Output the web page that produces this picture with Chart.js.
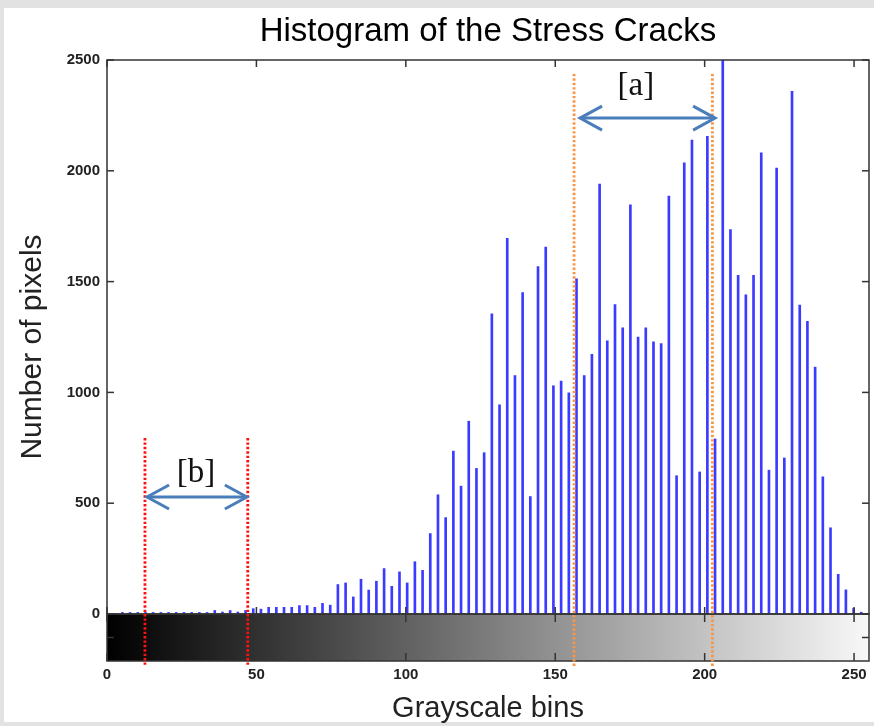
<!DOCTYPE html>
<html><head><meta charset="utf-8">
<script src="https://cdn.jsdelivr.net/npm/chart.js@4.4.1/dist/chart.umd.min.js"></script>
<style>html,body{margin:0;padding:0;background:#fff;}canvas{display:block;}</style>
</head><body>
<canvas id="c" width="874" height="726"></canvas>
<script>
// ---- data ----
const binCenters = [0,2.58,5.15,7.73,10.30,12.88,15.45,18.03,20.61,23.18,
  25.76,28.33,30.91,33.48,36.06,38.64,41.21,43.79,46.36,48.94,
  51.52,54.09,56.67,59.24,61.82,64.39,66.97,69.55,72.12,74.70,
  77.27,79.85,82.42,85.00,87.58,90.15,92.73,95.30,97.88,100.45,
  103.03,105.61,108.18,110.76,113.33,115.91,118.48,121.06,123.64,126.21,
  128.79,131.36,133.94,136.52,139.09,141.67,144.24,146.82,149.39,151.97,
  154.55,157.12,159.70,162.27,164.85,167.42,170.00,172.58,175.15,177.73,
  180.30,182.88,185.45,188.03,190.61,193.18,195.76,198.33,200.91,203.48,
  206.06,208.64,211.21,213.79,216.36,218.94,221.52,224.09,226.67,229.24,
  231.82,234.39,236.97,239.55,242.12,244.70,247.27,249.85,252.42,255.00];
const pixelCounts = [0,0,7,7,7,7,7,7,7,7,
  7,7,7,7,16,9,16,9,16,24,
  22,30,30,30,30,38,38,30,48,40,
  133,140,77,157,108,148,205,125,190,140,
  236,197,363,538,435,735,577,870,657,728,
  1354,944,1695,1076,1450,530,1568,1656,1030,1051,
  998,1513,1076,1172,1940,1233,1396,1291,1846,1250,
  1291,1228,1220,1886,624,2036,2139,641,2156,790,
  2650,1735,1528,1440,1528,2081,649,2012,704,2359,
  1394,1321,1114,619,389,179,109,25,8,0];
const xTickValues = [0,50,100,150,200,250];
const yTickValues = [0,500,1000,1500,2000,2500];
const titleText = 'Histogram of the Stress Cracks';
const xTitle = 'Grayscale bins';
const yTitle = 'Number of pixels';
// annotations (in data units)
const regionB = {lines:[12.7,47.1], top:794, arrow:[13.4,46.8], arrowY:528, label:'[b]', labelX:29.8, labelY:636};
const regionA = {lines:[156.3,202.6], top:2437, arrow:[158.3,203.5], arrowY:2238, label:'[a]', labelX:177.0, labelY:2383};

const CB_H = 47;
const FONT = '"Liberation Sans", Arial, Helvetica, sans-serif';

function line(ctx,x1,y1,x2,y2){ctx.beginPath();ctx.moveTo(x1,y1);ctx.lineTo(x2,y2);ctx.stroke();}

const framePlugin = {
  id:'frame',
  beforeDraw(chart){
    const ctx = chart.ctx;
    ctx.save();
    ctx.fillStyle='#ffffff'; ctx.fillRect(0,0,chart.width,chart.height);
    ctx.fillStyle='#e2e2e2';
    ctx.fillRect(0,0,chart.width,8);
    ctx.fillRect(0,0,4,chart.height);
    ctx.fillRect(0,chart.height-4,chart.width,4);
    ctx.restore();
  }
};

const decorPlugin = {
  id:'decor',
  afterDatasetsDraw(chart){
    const {ctx, chartArea:{left,right,top,bottom}, scales:{x,y}} = chart;
    ctx.save();
    // colour bar
    const x0 = x.getPixelForValue(0), x1 = x.getPixelForValue(255);
    const g = ctx.createLinearGradient(x0,0,x1,0);
    g.addColorStop(0,'#000000'); g.addColorStop(1,'#f8f8f8');
    ctx.fillStyle = g; ctx.fillRect(x0,bottom,x1-x0,CB_H);
    // boxes
    ctx.strokeStyle='#333333'; ctx.lineWidth=1.5;
    ctx.strokeRect(left,top,right-left,bottom-top);
    ctx.strokeRect(left,bottom,right-left,CB_H);
    // ticks (inward)
    xTickValues.forEach(v=>{
      const px = x.getPixelForValue(v);
      line(ctx,px,bottom,px,bottom-7);
      line(ctx,px,top,px,top+7);
      line(ctx,px,bottom,px,bottom+8);
      line(ctx,px,bottom+CB_H,px,bottom+CB_H-8);
    });
    yTickValues.forEach(v=>{
      const py = y.getPixelForValue(v);
      line(ctx,left,py,left+7,py);
      line(ctx,right,py,right-7,py);
    });
    line(ctx,right,bottom+CB_H/2,right-7,bottom+CB_H/2);
    line(ctx,left,bottom+CB_H/2,left+7,bottom+CB_H/2);

    // dotted lines
    function dotted(v,topVal,color){
      const px = x.getPixelForValue(v), py = y.getPixelForValue(topVal);
      ctx.save(); ctx.strokeStyle=color; ctx.lineWidth=2.8; ctx.setLineDash([2.4,2]);
      line(ctx,px,py,px,bottom+52); ctx.restore();
    }
    regionB.lines.forEach(v=>dotted(v,regionB.top,'#ff1010'));
    regionA.lines.forEach(v=>dotted(v,regionA.top,'#f79646'));

    // double arrows + labels
    function arrow(r){
      const xa = x.getPixelForValue(r.arrow[0]), xb = x.getPixelForValue(r.arrow[1]);
      const py = y.getPixelForValue(r.arrowY);
      ctx.save(); ctx.strokeStyle='#4a7ebb'; ctx.lineWidth=3;
      line(ctx,xa,py,xb,py);
      ctx.beginPath(); ctx.moveTo(xa+22,py-12); ctx.lineTo(xa,py); ctx.lineTo(xa+22,py+12); ctx.stroke();
      ctx.beginPath(); ctx.moveTo(xb-22,py-12); ctx.lineTo(xb,py); ctx.lineTo(xb-22,py+12); ctx.stroke();
      ctx.restore();
      ctx.save(); ctx.fillStyle='#111'; ctx.font='33px "Liberation Serif", serif';
      ctx.textAlign='center'; ctx.textBaseline='middle';
      ctx.fillText(r.label, x.getPixelForValue(r.labelX), y.getPixelForValue(r.labelY));
      ctx.restore();
    }
    arrow(regionB); arrow(regionA);

    // y-axis title (centred on plot + colour bar, as in the reference)
    ctx.save();
    ctx.fillStyle='#222'; ctx.font='30px '+FONT;
    ctx.textAlign='center'; ctx.textBaseline='middle';
    ctx.translate(33, (top+bottom)/2 + 10);
    ctx.rotate(-Math.PI/2);
    ctx.fillText(yTitle, 0, 0);
    ctx.restore();
    ctx.restore();
  }
};

new Chart(document.getElementById('c'), {
  type:'bar',
  data:{datasets:[{
    label:'Counts',
    data: binCenters.map((c,i)=>({x:c, y:pixelCounts[i]})),
    backgroundColor:'#3b3bff',
    borderWidth:0,
    barThickness:2,
    grouped:false
  }]},
  options:{
    responsive:false, animation:false, devicePixelRatio:1,
    layout:{padding:{left:0,right:5,top:0,bottom:0}},
    plugins:{
      legend:{display:false}, tooltip:{enabled:false},
      title:{display:true, text:titleText, fullSize:false, color:'#000',
        font:{family:FONT, size:33, weight:'normal'},
        padding:{top:12,bottom:8.4}}
    },
    scales:{
      x:{type:'linear', min:0, max:255, offset:false,
        afterBuildTicks:s=>{s.ticks = xTickValues.map(v=>({value:v}));},
        afterFit:s=>{s.height=112; s.paddingLeft=0; s.paddingRight=0;},
        grid:{display:false, drawTicks:false}, border:{display:false},
        ticks:{padding:52, maxRotation:0, autoSkip:false, color:'#222',
          callback:v=>String(v),
          font:{family:FONT, size:15, weight:'bold'}},
        title:{display:true, text:xTitle, color:'#222',
          font:{family:FONT, size:29, weight:'normal'},
          padding:{top:0,bottom:0}}
      },
      y:{type:'linear', min:0, max:2500,
        afterBuildTicks:s=>{s.ticks = yTickValues.map(v=>({value:v}));},
        afterFit:s=>{s.width=107; s.paddingTop=0; s.paddingBottom=0;},
        grid:{display:false, drawTicks:false}, border:{display:false},
        ticks:{padding:7, color:'#222', callback:v=>String(v),
          font:{family:FONT, size:15, weight:'bold'}},
        title:{display:false, text:yTitle}
      }
    }
  },
  plugins:[framePlugin, decorPlugin]
});
</script>
</body></html>
